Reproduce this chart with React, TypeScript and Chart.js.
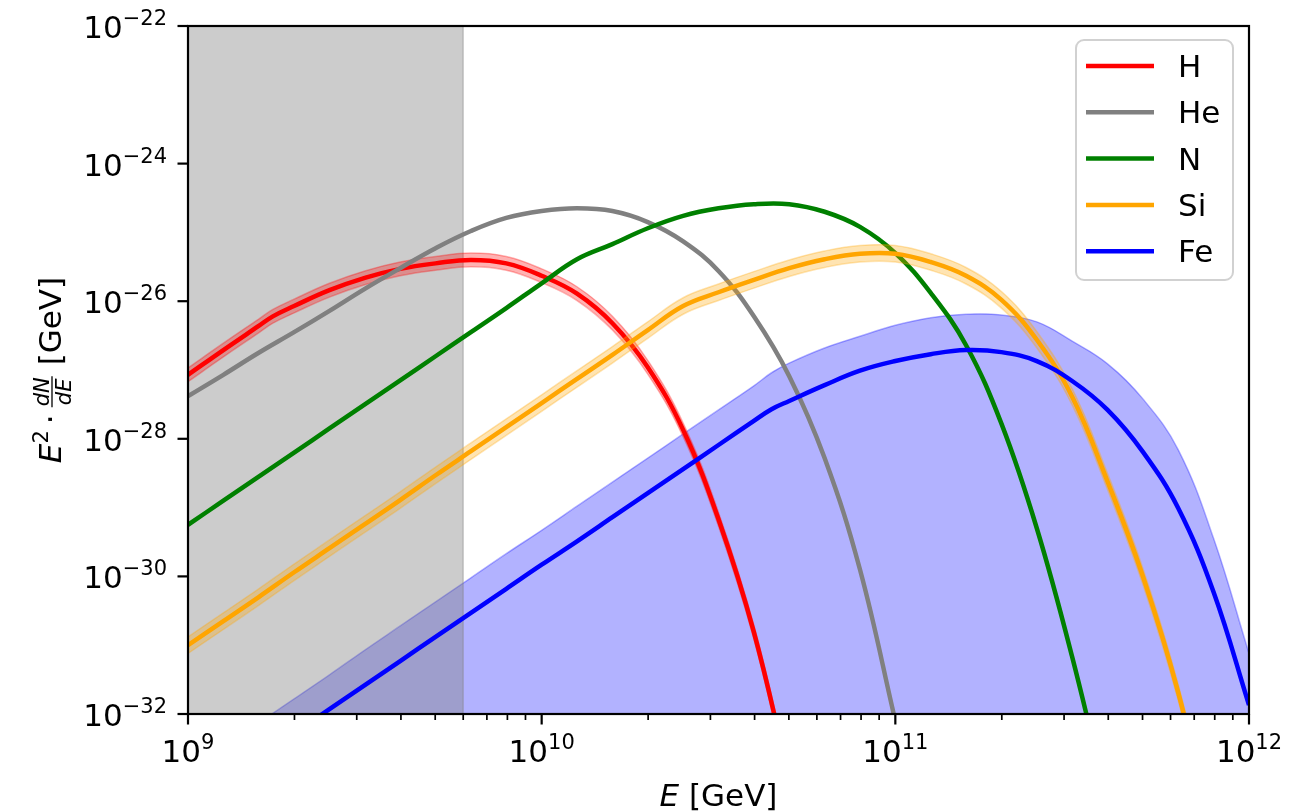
import React, { useEffect, useRef } from "react";
import { Chart, registerables } from "chart.js";

Chart.register(...registerables);

const WIDTH = 1309;
const HEIGHT = 812;

// Spectra: log10(E / GeV) grids and log10(E^2 dN/dE / GeV)
const H_LOG_E = [9.0, 9.1, 9.2, 9.24, 9.3, 9.4, 9.5, 9.6, 9.7, 9.8, 9.9, 10.0, 10.1, 10.2, 10.3, 10.4, 10.5, 10.6, 10.7];
const H_LOG_FLUX = [-27.07, -26.71, -26.36, -26.22, -26.07, -25.84, -25.66, -25.53, -25.45, -25.4, -25.45, -25.63, -25.89, -26.32, -26.96, -27.87, -29.17, -30.81, -32.94];

const HE_LOG_E = [9.0, 9.1, 9.2, 9.3, 9.4, 9.5, 9.6, 9.7, 9.8, 9.9, 10.0, 10.1, 10.2, 10.3, 10.4, 10.5, 10.6, 10.7, 10.8, 10.9, 11.0];
const HE_LOG_FLUX = [-27.38, -27.07, -26.75, -26.45, -26.14, -25.82, -25.52, -25.23, -24.98, -24.79, -24.69, -24.65, -24.69, -24.85, -25.13, -25.56, -26.22, -27.09, -28.28, -29.9, -32.1];

const N_LOG_E = [9.0, 9.1, 9.2, 9.3, 9.4, 9.5, 9.6, 9.7, 9.8, 9.9, 10.0, 10.1, 10.2, 10.3, 10.4, 10.5, 10.6, 10.7, 10.8, 10.9, 11.0, 11.1, 11.2, 11.3, 11.4, 11.5, 11.6];
const N_LOG_FLUX = [-29.25, -28.9, -28.55, -28.2, -27.85, -27.5, -27.15, -26.8, -26.45, -26.1, -25.74, -25.39, -25.17, -24.94, -24.76, -24.65, -24.59, -24.59, -24.7, -24.92, -25.3, -25.88, -26.64, -27.78, -29.3, -31.17, -33.29];

const SI_LOG_E = [9.0, 9.1, 9.2, 9.3, 9.4, 9.5, 9.6, 9.7, 9.8, 9.9, 10.0, 10.1, 10.2, 10.3, 10.4, 10.5, 10.6, 10.7, 10.8, 10.9, 11.0, 11.1, 11.2, 11.3, 11.4, 11.5, 11.6, 11.7, 11.8, 11.9];
const SI_LOG_FLUX = [-31.0, -30.65, -30.3, -29.94, -29.59, -29.24, -28.89, -28.53, -28.18, -27.83, -27.48, -27.13, -26.78, -26.42, -26.07, -25.87, -25.69, -25.52, -25.39, -25.31, -25.31, -25.43, -25.63, -25.98, -26.56, -27.39, -28.62, -30.0, -31.69, -33.85];

const FE_LOG_E = [9.0, 9.1, 9.2, 9.3, 9.4, 9.5, 9.6, 9.7, 9.8, 9.9, 10.0, 10.1, 10.2, 10.3, 10.4, 10.5, 10.6, 10.65, 10.7, 10.8, 10.9, 11.0, 11.1, 11.2, 11.3, 11.4, 11.5, 11.6, 11.7, 11.8, 11.9, 12.0];
const FE_LOG_FLUX = [-33.32, -32.97, -32.63, -32.28, -31.93, -31.58, -31.23, -30.88, -30.53, -30.18, -29.83, -29.49, -29.14, -28.79, -28.44, -28.09, -27.74, -27.57, -27.45, -27.22, -27.01, -26.87, -26.77, -26.71, -26.74, -26.87, -27.16, -27.58, -28.19, -29.01, -30.23, -31.87];
const FE_UPPER_LOG_FLUX = [-32.83, -32.48, -32.13, -31.78, -31.43, -31.07, -30.72, -30.37, -30.02, -29.67, -29.33, -28.98, -28.63, -28.28, -27.93, -27.58, -27.23, -27.04, -26.9, -26.68, -26.51, -26.35, -26.24, -26.19, -26.2, -26.3, -26.58, -26.91, -27.42, -28.16, -29.45, -31.12];

// half-widths of the uncertainty bands, in decades
const H_BAND_DEX = 0.1;
const SI_BAND_DEX = 0.12;

// shaded energy range below the analysis threshold (GeV)
const EXCLUDED_E_MIN = 1e9;
const EXCLUDED_E_MAX = 6e9;

const SERIES_LABELS = ["H", "He", "N", "Si", "Fe"];
const SERIES_COLORS = ["#ff0000", "#808080", "#008000", "#ffa500", "#0000ff"];

const X_MIN = 1e9;
const X_MAX = 1e12;
const Y_MIN = 1e-32;
const Y_MAX = 1e-22;
const X_TICK_EXPONENTS = [9, 10, 11, 12];
const Y_TICK_EXPONENTS = [-32, -30, -28, -26, -24, -22];

const FONT = "'DejaVu Sans', sans-serif";
const BASE_SIZE = 31;
const SUP_SIZE = 21;
const SUP_RAISE = 13;
const LINE_WIDTH = 4.5;
const TENSION = 0.4;

const toPoints = (logE: number[], logF: number[], shift = 0) =>
  logE.map((e, i) => ({ x: Math.pow(10, e), y: Math.pow(10, logF[i] + shift) }));

const curve = (label: string, color: string, logE: number[], logF: number[], order: number) => ({
  label,
  data: toPoints(logE, logF),
  borderColor: color,
  backgroundColor: color,
  borderWidth: LINE_WIDTH,
  borderJoinStyle: "round",
  pointRadius: 0,
  fill: false,
  tension: TENSION,
  clip: 0,
  order,
});

const band = (rgba: string, logE: number[], logF: number[], dex: number, order: number) => [
  {
    label: "",
    data: toPoints(logE, logF, dex),
    borderColor: rgba,
    backgroundColor: rgba,
    borderWidth: 1.5,
    pointRadius: 0,
    fill: "+1",
    tension: TENSION,
    clip: 0,
    order,
  },
  {
    label: "",
    data: toPoints(logE, logF, -dex),
    borderColor: rgba,
    backgroundColor: rgba,
    borderWidth: 1.5,
    pointRadius: 0,
    fill: false,
    tension: TENSION,
    clip: 0,
    order,
  },
];

function supLabel(ctx: CanvasRenderingContext2D, exp: number, x: number, baseline: number, align: "center" | "right") {
  const base = "10";
  const sup = exp < 0 ? "\u2212" + Math.abs(exp) : String(exp);
  ctx.font = `${BASE_SIZE}px ${FONT}`;
  const wb = ctx.measureText(base).width;
  ctx.font = `${SUP_SIZE}px ${FONT}`;
  const ws = ctx.measureText(sup).width;
  const total = wb + ws;
  const x0 = align === "center" ? x - total / 2 : x - total;
  ctx.textAlign = "left";
  ctx.textBaseline = "alphabetic";
  ctx.font = `${BASE_SIZE}px ${FONT}`;
  ctx.fillText(base, x0, baseline);
  ctx.font = `${SUP_SIZE}px ${FONT}`;
  ctx.fillText(sup, x0 + wb, baseline - SUP_RAISE);
}

const axesDecor = {
  id: "axesDecor",
  afterDraw(chart: any) {
    const { ctx, chartArea: a } = chart;
    const xs = chart.scales.x;
    const ys = chart.scales.y;
    ctx.save();
    ctx.strokeStyle = "#000";
    ctx.fillStyle = "#000";

    // frame
    ctx.lineWidth = 2.2;
    ctx.strokeRect(a.left, a.top, a.right - a.left, a.bottom - a.top);

    const seg = (x1: number, y1: number, x2: number, y2: number) => {
      ctx.beginPath();
      ctx.moveTo(x1, y1);
      ctx.lineTo(x2, y2);
      ctx.stroke();
    };

    // x ticks: majors at decades, minors at 2..9
    ctx.lineWidth = 2.2;
    X_TICK_EXPONENTS.forEach((p) => {
      const px = xs.getPixelForValue(Math.pow(10, p));
      seg(px, a.bottom, px, a.bottom + 10.5);
    });
    ctx.lineWidth = 1.7;
    for (let d = X_TICK_EXPONENTS[0]; d < X_TICK_EXPONENTS[X_TICK_EXPONENTS.length - 1]; d++) {
      for (let m = 2; m <= 9; m++) {
        const px = xs.getPixelForValue(m * Math.pow(10, d));
        seg(px, a.bottom, px, a.bottom + 6);
      }
    }
    // y ticks
    ctx.lineWidth = 2.2;
    Y_TICK_EXPONENTS.forEach((p) => {
      const py = ys.getPixelForValue(Math.pow(10, p));
      seg(a.left, py, a.left - 10.5, py);
    });

    // tick labels
    X_TICK_EXPONENTS.forEach((p) => {
      const px = xs.getPixelForValue(Math.pow(10, p));
      supLabel(ctx, p, px, a.bottom + 48, "center");
    });
    Y_TICK_EXPONENTS.forEach((p) => {
      const py = ys.getPixelForValue(Math.pow(10, p));
      supLabel(ctx, p, a.left - 21, py + 12, "right");
    });

    // x axis title
    {
      ctx.textBaseline = "alphabetic";
      ctx.textAlign = "left";
      ctx.font = `italic ${BASE_SIZE}px ${FONT}`;
      const wE = ctx.measureText("E").width;
      ctx.font = `${BASE_SIZE}px ${FONT}`;
      const rest = " [GeV]";
      const wR = ctx.measureText(rest).width;
      const cx = (a.left + a.right) / 2;
      const x0 = cx - (wE + wR) / 2;
      const base = 806;
      ctx.font = `italic ${BASE_SIZE}px ${FONT}`;
      ctx.fillText("E", x0, base);
      ctx.font = `${BASE_SIZE}px ${FONT}`;
      ctx.fillText(rest, x0 + wE, base);
    }

    // y axis title: E^2 · dN/dE [GeV]
    {
      ctx.save();
      ctx.translate(61, (a.top + a.bottom) / 2);
      ctx.rotate(-Math.PI / 2);
      ctx.textBaseline = "alphabetic";
      ctx.textAlign = "left";
      const big = `${BASE_SIZE}px ${FONT}`;
      const bigIt = `italic ${BASE_SIZE}px ${FONT}`;
      const small = `${SUP_SIZE}px ${FONT}`;
      const smallIt = `italic ${SUP_SIZE}px ${FONT}`;
      ctx.font = bigIt;
      const wE = ctx.measureText("E").width;
      ctx.font = small;
      const w2 = ctx.measureText("2").width;
      ctx.font = big;
      const wDot = ctx.measureText("\u00b7").width;
      ctx.font = smallIt;
      const wNum = ctx.measureText("dN").width;
      const wDen = ctx.measureText("dE").width;
      const wFrac = Math.max(wNum, wDen) + 4;
      ctx.font = big;
      const unit = "[GeV]";
      const wUnit = ctx.measureText(unit).width;
      const gap = 6;
      const space = 10;
      const total = wE + w2 + gap + wDot + gap + wFrac + space + wUnit;
      let x = -total / 2;
      ctx.font = bigIt;
      ctx.fillText("E", x, 0);
      x += wE;
      ctx.font = small;
      ctx.fillText("2", x, -SUP_RAISE);
      x += w2 + gap;
      ctx.font = big;
      ctx.fillText("\u00b7", x, 0);
      x += wDot + gap;
      const axis = -9;
      ctx.font = smallIt;
      ctx.fillText("dN", x + (wFrac - wNum) / 2, axis - 3);
      ctx.fillText("dE", x + (wFrac - wDen) / 2, axis + 19);
      ctx.lineWidth = 1.3;
      ctx.beginPath();
      ctx.moveTo(x + 1, axis);
      ctx.lineTo(x + wFrac - 1, axis);
      ctx.stroke();
      x += wFrac + space;
      ctx.font = big;
      ctx.fillText(unit, x, 0);
      ctx.restore();
    }

    // legend
    {
      const left = 1076;
      const top = 40;
      const w = 157;
      const h = 240;
      const r = 8;
      ctx.beginPath();
      ctx.moveTo(left + r, top);
      ctx.lineTo(left + w - r, top);
      ctx.arcTo(left + w, top, left + w, top + r, r);
      ctx.lineTo(left + w, top + h - r);
      ctx.arcTo(left + w, top + h, left + w - r, top + h, r);
      ctx.lineTo(left + r, top + h);
      ctx.arcTo(left, top + h, left, top + h - r, r);
      ctx.lineTo(left, top + r);
      ctx.arcTo(left, top, left + r, top, r);
      ctx.closePath();
      ctx.fillStyle = "rgba(255,255,255,0.8)";
      ctx.fill();
      ctx.strokeStyle = "rgba(204,204,204,0.9)";
      ctx.lineWidth = 2;
      ctx.stroke();
      ctx.font = `${BASE_SIZE}px ${FONT}`;
      ctx.textAlign = "left";
      ctx.textBaseline = "alphabetic";
      SERIES_LABELS.forEach((lab, i) => {
        const y = 66 + i * 46.3;
        ctx.strokeStyle = SERIES_COLORS[i];
        ctx.lineWidth = LINE_WIDTH;
        ctx.beginPath();
        ctx.moveTo(1086, y);
        ctx.lineTo(1154, y);
        ctx.stroke();
        ctx.fillStyle = "#000";
        ctx.fillText(lab, 1178, y + 11);
      });
    }
    ctx.restore();
  },
};

export default function App() {
  const canvasRef = useRef<HTMLCanvasElement | null>(null);

  useEffect(() => {
    const canvas = canvasRef.current;
    if (!canvas) return;

    const datasets: any[] = [
      curve(SERIES_LABELS[0], SERIES_COLORS[0], H_LOG_E, H_LOG_FLUX, 9),
      curve(SERIES_LABELS[1], SERIES_COLORS[1], HE_LOG_E, HE_LOG_FLUX, 8),
      curve(SERIES_LABELS[2], SERIES_COLORS[2], N_LOG_E, N_LOG_FLUX, 7),
      curve(SERIES_LABELS[3], SERIES_COLORS[3], SI_LOG_E, SI_LOG_FLUX, 5),
      curve(SERIES_LABELS[4], SERIES_COLORS[4], FE_LOG_E, FE_LOG_FLUX, 4),
      ...band("rgba(255,0,0,0.3)", H_LOG_E, H_LOG_FLUX, H_BAND_DEX, 10),
      ...band("rgba(255,165,0,0.3)", SI_LOG_E, SI_LOG_FLUX, SI_BAND_DEX, 6),
      {
        label: "",
        data: [
          { x: EXCLUDED_E_MIN, y: Y_MAX },
          { x: EXCLUDED_E_MAX, y: Y_MAX },
          { x: EXCLUDED_E_MAX, y: Y_MIN },
        ],
        borderColor: "rgba(128,128,128,0.4)",
        backgroundColor: "rgba(128,128,128,0.4)",
        borderWidth: 1.5,
        pointRadius: 0,
        fill: "start",
        tension: 0,
        clip: 0,
        order: 25,
      },
      {
        label: "",
        data: toPoints(FE_LOG_E, FE_UPPER_LOG_FLUX),
        borderColor: "rgba(0,0,255,0.3)",
        backgroundColor: "rgba(0,0,255,0.3)",
        borderWidth: 1.5,
        pointRadius: 0,
        fill: "start",
        tension: TENSION,
        clip: 0,
        order: 30,
      },
    ];

    const chart = new Chart(canvas, {
      type: "line",
      data: { datasets },
      options: {
        responsive: false,
        devicePixelRatio: 1,
        animation: false,
        events: [],
        layout: { padding: { left: 0, right: 60, top: 26, bottom: 0 } },
        elements: { line: { capBezierPoints: false } },
        plugins: {
          legend: { display: false },
          tooltip: { enabled: false },
          title: { display: false },
        },
        scales: {
          x: {
            type: "logarithmic",
            min: X_MIN,
            max: X_MAX,
            ticks: { display: false },
            grid: { display: false },
            border: { display: false },
            afterFit: (s: any) => {
              s.height = 98;
            },
          },
          y: {
            type: "logarithmic",
            min: Y_MIN,
            max: Y_MAX,
            ticks: { display: false },
            grid: { display: false },
            border: { display: false },
            afterFit: (s: any) => {
              s.width = 188;
            },
          },
        },
      } as any,
      plugins: [axesDecor],
    });

    return () => chart.destroy();
  }, []);

  return (
    <div style={{ position: "absolute", left: 0, top: 0, width: WIDTH, height: HEIGHT, background: "#fff" }}>
      <canvas ref={canvasRef} width={WIDTH} height={HEIGHT} style={{ display: "block" }} />
    </div>
  );
}
